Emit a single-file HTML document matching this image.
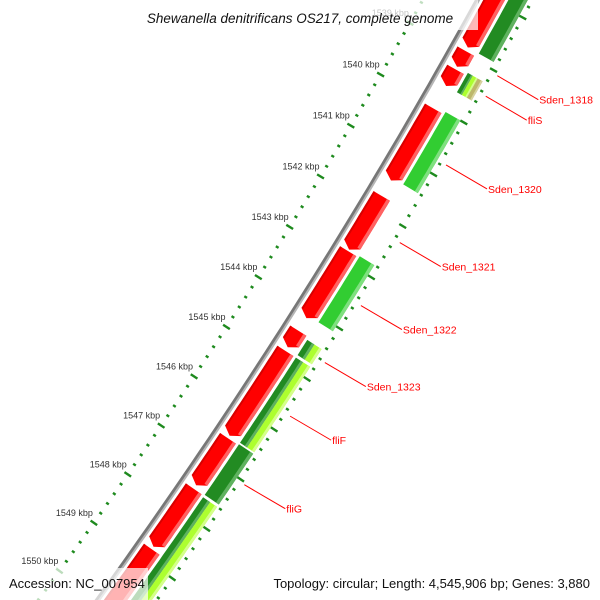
<!DOCTYPE html>
<html><head><meta charset="utf-8"><style>
html,body{margin:0;padding:0;background:#fff;width:600px;height:600px;overflow:hidden}
svg{display:block;font-family:"Liberation Sans",sans-serif}
</style></head><body>
<svg id="map" width="600" height="600" viewBox="0 0 600 600" xmlns="http://www.w3.org/2000/svg">
<rect width="600" height="600" fill="#fff"/>
<g id="ticks"></g>
<g id="backbone"></g>
<g id="redgenes"></g>
<g id="greengenes"></g>
<g id="labels"></g>
<g id="ticklabels"></g>
<rect x="122" y="0" width="356" height="30" fill="#fff" opacity="0.72"/>
<text x="300" y="23" text-anchor="middle" font-size="13.5" font-style="italic" fill="#111">Shewanella denitrificans OS217, complete genome</text>
<rect x="4" y="568" width="144" height="32" fill="#fff" opacity="0.7"/>
<text x="9" y="588" font-size="13" fill="#111">Accession: NC_007954</text>
<rect x="256" y="568" width="340" height="32" fill="#fff" opacity="0.7"/>
<text x="590" y="588" text-anchor="end" font-size="13" fill="#111">Topology: circular; Length: 4,545,906 bp; Genes: 3,880</text>
</svg>
<script>
// data (kbp)
const redStarts = [1537.0, 1538.95, 1539.3, 1540.05, 1541.75, 1542.83, 1544.4, 1544.8, 1546.55, 1547.57, 1548.8];
const redEnds   = [1538.88, 1539.25, 1539.62, 1541.45, 1542.8, 1544.15, 1544.73, 1546.5, 1547.5, 1548.75, 1551.5];
const greenStarts = [1536.5, 1539.25, 1540.0, 1542.8, 1544.45, 1544.8, 1546.53, 1547.6];
const greenEnds   = [1538.88, 1539.62, 1541.4, 1544.1, 1544.75, 1546.5, 1547.55, 1551.5];
const greenTypes  = ["forest", "triple", "lime", "lime", "split", "split", "forest", "split"];
const labelNames = ["Sden_1318", "fliS", "Sden_1320", "Sden_1321", "Sden_1322", "Sden_1323", "fliF", "fliG"];
const labelPos   = [1539.05, 1539.44, 1540.76, 1542.26, 1543.49, 1544.61, 1545.67, 1547.04];
const tickLabelKbp = [1539, 1540, 1541, 1542, 1543, 1544, 1545, 1546, 1547, 1548, 1549, 1550];

const NS = "http://www.w3.org/2000/svg";
const CX = -4556, CY = -2767, R0 = 5744, A0 = 32.9, K = 0.595;
function ang(k){ return (A0 + (k - 1545) * K) * Math.PI / 180; }
function pt(k, r){ const a = ang(k); return [CX + r * Math.cos(a), CY + r * Math.sin(a)]; }
function mk(tag, parent, attrs){ const e = document.createElementNS(NS, tag); for (const k in attrs) e.setAttribute(k, attrs[k]); parent.appendChild(e); return e; }
function band(s, e, r1, r2, arrowEnd){
  const ah = 0.1, pts = [];
  const e2 = arrowEnd ? e - ah : e;
  const n = Math.max(2, Math.ceil((e2 - s) / 0.1));
  for (let i = 0; i <= n; i++) pts.push(pt(s + (e2 - s) * i / n, r2));
  if (arrowEnd) pts.push(pt(e, (r1 + r2) / 2));
  for (let i = n; i >= 0; i--) pts.push(pt(s + (e2 - s) * i / n, r1));
  return pts.map(p => p[0].toFixed(1) + "," + p[1].toFixed(1)).join(" ");
}

// ticks (every 200 bp, major each kbp)
const tg = document.getElementById("ticks");
for (let i = 7680; i <= 7760; i++) {
  const k = i / 5;
  const major = i % 5 === 0;
  [-48, 48].forEach(off => {
    const len = major ? 4 : 1.6;
    const p1 = pt(k, R0 + off - len), p2 = pt(k, R0 + off + len);
    const l = mk("line", tg, {x1: p1[0], y1: p1[1], x2: p2[0], y2: p2[1], stroke: "#1e8a1e", "stroke-width": 2.4});
    
    
  });
}

// backbone
const bg = document.getElementById("backbone");
function arcPath(r){ let d = ""; for (let k = 1535; k <= 1553; k += 0.25){ const p = pt(k, r); d += (d ? "L" : "M") + p[0].toFixed(1) + "," + p[1].toFixed(1); } return d; }
const b1 = mk("path", bg, {d: arcPath(R0 - 1), stroke: "#777", "stroke-width": 3, fill: "none"});


const b2 = mk("path", bg, {d: arcPath(R0 + 1.3), stroke: "#b5b5b5", "stroke-width": 2, fill: "none"});



// red genes
const rg = document.getElementById("redgenes");
const RI = R0 + 5, RO = R0 + 24;
for (let i = 0; i < redStarts.length; i++) {
  const g = mk("g", rg, {});
  
  
  mk("polygon", g, {points: band(redStarts[i], redEnds[i], RI, RO, true), fill: "#ff0000"});
  mk("polygon", g, {points: band(redStarts[i], redEnds[i] - 0.1, RO - 3.5, RO, false), fill: "#ff6262"});
  mk("polygon", g, {points: band(redStarts[i], redEnds[i] - 0.1, RI, RI + 2, false), fill: "#d80000"});
}

// green features
const gg = document.getElementById("greengenes");
const GI = R0 + 27, GO = R0 + 44;
const colors = {forest: ["#228b22", "#5fb25f"], lime: ["#32cd32", "#7fe07f"], gy: ["#adff2f", "#d4ff8a"], khaki: ["#bdb76b", "#d8d3a0"]};
function gband(s, e, r1, r2, c){
  mk("polygon", gg, {points: band(s, e, r1, r2, false), fill: colors[c][0]});
  mk("polygon", gg, {points: band(s, e, r2 - Math.min(3.5, (r2 - r1) / 3), r2, false), fill: colors[c][1]});
}
for (let i = 0; i < greenStarts.length; i++) {
  const s = greenStarts[i], e = greenEnds[i], t = greenTypes[i];
  if (t === "forest" || t === "lime") gband(s, e, GI, GO, t);
  else if (t === "split") { const m = (GI + GO) / 2; gband(s, e, GI, m, "forest"); gband(s, e, m, GO, "gy"); }
  else { const d = (GO - GI) / 3; gband(s, e, GI, GI + d, "forest"); gband(s, e, GI + d, GI + 2 * d, "gy"); gband(s, e, GI + 2 * d, GO, "khaki"); }
}

// gene labels
const lg = document.getElementById("labels");
for (let i = 0; i < labelNames.length; i++) {
  const p = pt(labelPos[i], R0 + 54);
  const l = mk("line", lg, {x1: p[0], y1: p[1], x2: p[0] + 41, y2: p[1] + 24, stroke: "#ff0000", "stroke-width": 1});
  
  
  const t = mk("text", lg, {x: p[0] + 42, y: p[1] + 28, "font-size": 10.5, fill: "#ff0000"});
  
  
  t.textContent = labelNames[i];
}

// tick labels
const tl = document.getElementById("ticklabels");
for (let i = 0; i < tickLabelKbp.length; i++) {
  const p = pt(tickLabelKbp[i], R0 - 48);
  const t = mk("text", tl, {x: p[0] - 1, y: p[1] - 7, "text-anchor": "end", "font-size": 9, fill: "#333"});
  
  
  t.textContent = tickLabelKbp[i] + " kbp";
}
</script>
</body></html>
